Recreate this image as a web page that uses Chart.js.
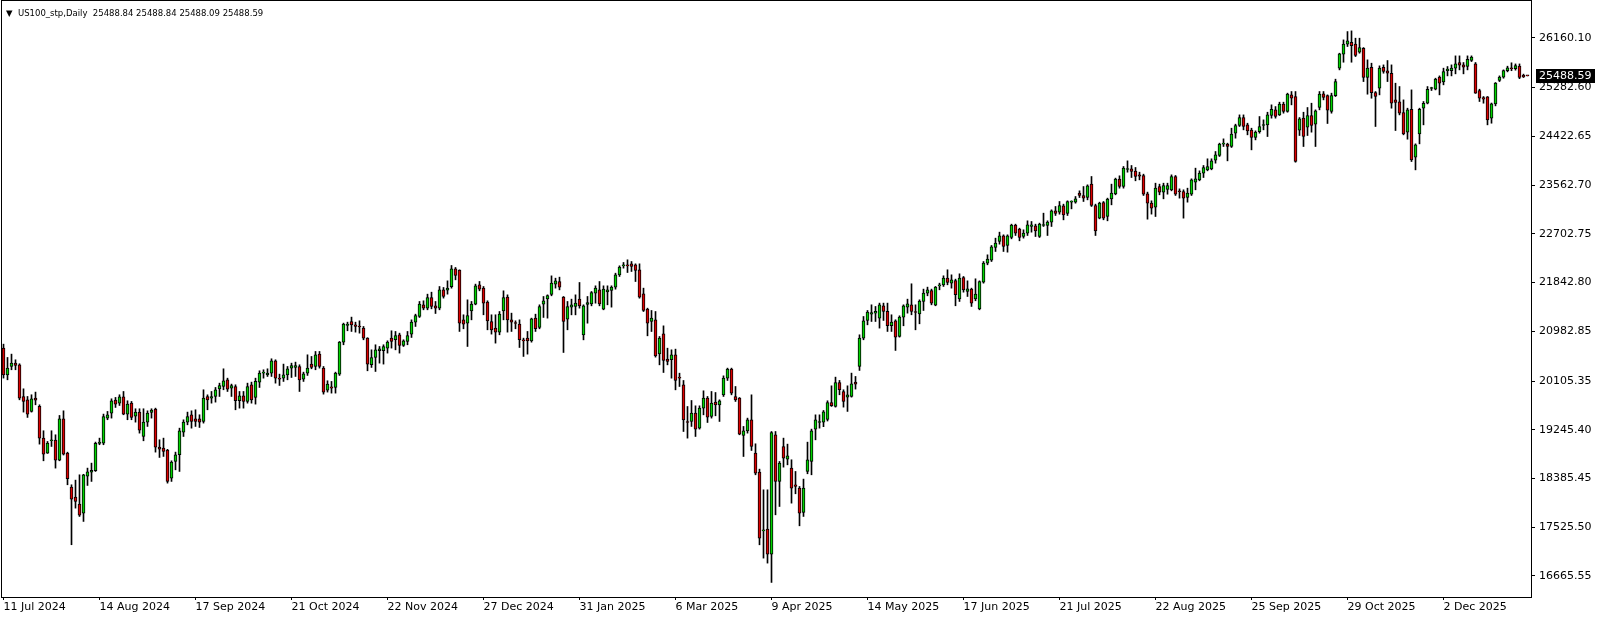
<!DOCTYPE html>
<html>
<head>
<meta charset="utf-8">
<script src="https://cdn.jsdelivr.net/npm/chart.js@4.4.0/dist/chart.umd.min.js"></script>
<style>
  html, body { margin: 0; padding: 0; background: #fff; }
  #wrap { position: relative; width: 1604px; height: 620px; }
  #title { position: absolute; left: 6px; top: 8px; font: 8.5px "DejaVu Sans", sans-serif; color: #000; white-space: pre; line-height: 10px; }
  #title .tri { display: inline-block; width: 12px; }
</style>
</head>
<body>
<div id="wrap">
  <canvas id="chart" width="1604" height="620"></canvas>
  <div id="title"><span class="tri">▼</span>US100_stp,Daily  25488.84 25488.84 25488.09 25488.59</div>
</div>
<script>
// daily bars, 11 Jul 2024 onwards (index = bar number)
const opens = [
  20686, 20215, 20362, 20421, 20392, 19833, 19774, 19569, 19804, 19657, 19098, 18834,
  19051, 19063, 18710, 19439, 18834, 18234, 18057, 17934, 17775, 18428, 18498, 18522,
  19004, 19010, 19451, 19539, 19768, 19716, 19827, 19522, 19716, 19486, 19557, 19127,
  19380, 19551, 19610, 18939, 18922, 18886, 18392, 18686, 18804, 19204, 19380, 19510,
  19439, 19439, 19392, 19833, 19804, 19833, 19968, 20009, 20127, 19980, 20009, 19757,
  19845, 19745, 20039, 19816, 20086, 20245, 20215, 20245, 20462, 20157, 20157, 20215,
  20333, 20345, 20362, 20139, 20245, 20404, 20362, 20580, 20333, 19945, 20004, 19992,
  20227, 20792, 21086, 21156, 21097, 21062, 21039, 20862, 20392, 20521, 20639, 20639,
  20686, 20862, 20833, 20921, 20733, 20803, 20933, 21144, 21244, 21450, 21391, 21579,
  21432, 21391, 21715, 21709, 21768, 22085, 22062, 21185, 21127, 21344, 21462, 21803,
  21744, 21497, 21156, 21038, 20968, 21344, 21585, 21185, 21127, 21109, 20827, 20862,
  20815, 21215, 21050, 21462, 21556, 21632, 21814, 21861, 21585, 21197, 21409, 21420,
  21550, 20921, 21456, 21467, 21656, 21714, 21373, 21679, 21703, 21761, 21979, 22138,
  22155, 22173, 22155, 22067, 21644, 21373, 21156, 21185, 20585, 20938, 20491, 20480,
  20568, 20168, 20039, 19386, 19392, 19539, 19274, 19627, 19803, 19480, 19733, 19686,
  19862, 20156, 20315, 19833, 19803, 19145, 19227, 19421, 18833, 18498, 17463, 17493,
  17052, 19157, 18333, 18951, 18727, 18569, 18275, 18216, 17787, 18510, 18686, 19257,
  19374, 19380, 19430, 19727, 19657, 20080, 19921, 19821, 19833, 20086, 20362, 20862,
  21174, 21286, 21303, 21215, 21433, 21333, 21080, 21168, 20892, 21233, 21409, 21450,
  21321, 21291, 21509, 21656, 21703, 21444, 21785, 21803, 21921, 21832, 21879, 21556,
  21932, 21685, 21726, 21556, 21379, 21850, 22185, 22238, 22461, 22567, 22667, 22497,
  22638, 22855, 22785, 22655, 22714, 22832, 22844, 22655, 22849, 22849, 22908, 23108,
  23085, 23196, 23061, 23261, 23261, 23420, 23379, 23343, 23579, 23202, 22979, 23255,
  23008, 23320, 23408, 23667, 23537, 23837, 23849, 23808, 23743, 23732, 23408, 23243,
  23173, 23537, 23438, 23485, 23479, 23714, 23449, 23449, 23344, 23402, 23614, 23655,
  23773, 23832, 23849, 24002, 24084, 24284, 24284, 24243, 24478, 24613, 24754, 24625,
  24531, 24402, 24507, 24613, 24625, 24790, 24890, 24801, 24990, 24860, 25154, 25125,
  24531, 24743, 24584, 24790, 24637, 24931, 25172, 25142, 24860, 25142, 25625, 25872,
  26048, 26083, 26048, 25907, 25977, 25460, 25642, 25195, 25272, 25642, 25578, 25536,
  25066, 25031, 24843, 24496, 24901, 24055, 24466, 24919, 25007, 25266, 25254, 25466,
  25384, 25583, 25583, 25625, 25725, 25683, 25654, 25760, 25701, 25231, 25107, 25119,
  24743, 24995, 25407, 25466, 25583, 25625, 25615, 25660, 25500, 25488.84
];
const highs = [
  20756, 20521, 20580, 20480, 20410, 19968, 19833, 19863, 19910, 19686, 19228, 19039,
  19228, 19157, 19498, 19580, 18850, 18275, 18357, 18451, 18460, 18569, 18657, 19028,
  19098, 19522, 19569, 19792, 19816, 19863, 19921, 19757, 19745, 19616, 19616, 19616,
  19580, 19616, 19627, 19069, 19098, 18900, 18698, 18851, 19274, 19421, 19557, 19580,
  19598, 19510, 19951, 19862, 19921, 19992, 20068, 20321, 20156, 20051, 20039, 19921,
  19921, 20068, 20086, 20156, 20286, 20304, 20321, 20498, 20480, 20227, 20404, 20362,
  20421, 20439, 20392, 20262, 20568, 20539, 20627, 20627, 20362, 20110, 20098, 20262,
  20803, 21127, 21144, 21233, 21144, 21168, 21068, 20870, 20656, 20745, 20715, 20745,
  20815, 20992, 20980, 20950, 20833, 20980, 21185, 21285, 21509, 21521, 21638, 21673,
  21509, 21773, 21756, 21873, 22144, 22109, 22067, 21274, 21538, 21509, 21815, 21862,
  21773, 21521, 21274, 21274, 21332, 21697, 21626, 21303, 21168, 21185, 20862, 20980,
  21215, 21285, 21450, 21597, 21626, 21961, 21920, 21938, 21597, 21509, 21550, 21626,
  21844, 21450, 21597, 21685, 21785, 21861, 21785, 21785, 21785, 22008, 22138, 22197,
  22244, 22214, 22173, 22173, 21744, 21391, 21350, 21332, 20891, 21079, 20685, 20656,
  20668, 20244, 20115, 19656, 19762, 19668, 19668, 19933, 19833, 19921, 19903, 19774,
  20197, 20333, 20333, 20009, 19815, 19304, 19451, 19862, 18998, 18551, 18186, 18186,
  19215, 19215, 18686, 19098, 18992, 18716, 18510, 18245, 18375, 19027, 19257, 19509,
  19509, 19586, 19757, 20021, 20174, 20116, 19951, 20021, 20245, 20186, 20921, 21244,
  21350, 21450, 21421, 21480, 21480, 21480, 21274, 21186, 21256, 21450, 21550, 21821,
  21450, 21538, 21727, 21762, 21727, 21774, 21832, 21962, 22068, 21979, 21903, 21997,
  21950, 21873, 21744, 21909, 21873, 22214, 22332, 22497, 22626, 22732, 22685, 22685,
  22873, 22873, 22802, 22773, 22932, 22920, 22873, 22891, 23067, 22932, 23126, 23185,
  23273, 23226, 23285, 23285, 23361, 23461, 23537, 23567, 23714, 23226, 23261, 23273,
  23332, 23579, 23685, 23726, 23890, 23990, 23908, 23873, 23790, 23755, 23438, 23285,
  23596, 23579, 23596, 23596, 23743, 23732, 23496, 23479, 23508, 23673, 23861, 23814,
  23908, 24026, 24026, 24155, 24302, 24378, 24302, 24566, 24637, 24801, 24801, 24654,
  24566, 24519, 24772, 24713, 24848, 24978, 24948, 25025, 25025, 25184, 25213, 25213,
  24754, 24848, 24931, 25007, 24890, 25213, 25213, 25154, 25184, 25431, 25889, 26124,
  26271, 26283, 26154, 26154, 25989, 25772, 25713, 25213, 25666, 25683, 25760, 25683,
  25360, 25301, 25066, 24919, 25242, 24290, 24919, 25037, 25301, 25289, 25448, 25489,
  25625, 25654, 25683, 25842, 25842, 25725, 25842, 25842, 25725, 25254, 25125, 25125,
  25010, 25372, 25489, 25595, 25660, 25720, 25700, 25700, 25520, 25488.84
];
const lows = [
  20157, 20127, 20304, 20304, 19774, 19557, 19463, 19557, 19686, 18992, 18698, 18828,
  18951, 18569, 18698, 18800, 18275, 17217, 17863, 17716, 17628, 18263, 18334, 18510,
  18981, 18981, 19422, 19451, 19639, 19674, 19510, 19422, 19422, 19380, 19186, 19051,
  19304, 19451, 18851, 18757, 18775, 18304, 18334, 18539, 18510, 19127, 19333, 19274,
  19304, 19286, 19363, 19598, 19715, 19733, 19833, 19951, 19921, 19833, 19598, 19627,
  19627, 19715, 19715, 19698, 19992, 20156, 20186, 20186, 20068, 20027, 20098, 20127,
  20168, 20186, 19921, 20098, 20204, 20321, 20304, 20333, 19874, 19910, 19892, 19892,
  20204, 20745, 20992, 20980, 20968, 20950, 20833, 20286, 20345, 20274, 20421, 20404,
  20598, 20686, 20656, 20598, 20715, 20745, 20874, 21068, 21227, 21362, 21362, 21379,
  21297, 21362, 21568, 21638, 21744, 21891, 20980, 21027, 20715, 21185, 21450, 21697,
  21274, 21009, 20933, 20774, 20921, 21185, 20968, 20980, 21027, 20697, 20539, 20580,
  20791, 20980, 21027, 21227, 21215, 21609, 21744, 21714, 20609, 21009, 21273, 21273,
  21391, 20832, 21126, 21432, 21479, 21432, 21362, 21450, 21409, 21726, 21950, 22097,
  22020, 22038, 21861, 21567, 21332, 20903, 20979, 20527, 20391, 20256, 20391, 20156,
  19950, 20009, 19215, 19098, 19304, 19127, 19257, 19509, 19374, 19451, 19492, 19392,
  19833, 20115, 19862, 19745, 19157, 18774, 19186, 18880, 18451, 17216, 16981, 16893,
  16552, 17745, 17892, 18586, 18627, 17951, 18116, 17551, 17716, 18469, 18451, 19068,
  19274, 19300, 19400, 19657, 19645, 19863, 19645, 19569, 19821, 19963, 20292, 20833,
  21097, 21156, 21156, 21039, 21174, 20980, 20980, 20645, 20880, 21080, 21303, 21274,
  21009, 21115, 21350, 21609, 21450, 21433, 21715, 21774, 21803, 21744, 21433, 21509,
  21673, 21597, 21421, 21521, 21362, 21832, 22156, 22214, 22391, 22520, 22391, 22379,
  22614, 22673, 22579, 22626, 22673, 22732, 22655, 22638, 22832, 22673, 22832, 23026,
  23049, 22949, 23026, 23143, 23243, 23343, 23273, 23302, 23185, 22673, 22967, 22950,
  22932, 23214, 23391, 23508, 23508, 23790, 23696, 23638, 23655, 23379, 22961, 23050,
  23008, 23391, 23320, 23402, 23461, 23379, 23332, 22979, 23261, 23379, 23479, 23638,
  23696, 23814, 23832, 23949, 24067, 24243, 23990, 24226, 24390, 24596, 24537, 24449,
  24184, 24360, 24478, 24537, 24419, 24743, 24743, 24790, 24831, 24848, 24978, 23966,
  24437, 24243, 24437, 24496, 24243, 24890, 25066, 24649, 24831, 25125, 25595, 25730,
  26007, 25730, 25830, 25889, 25389, 25166, 25095, 24596, 25154, 25536, 25389, 24919,
  24525, 24801, 24449, 24372, 23978, 23831, 24290, 24625, 24995, 25231, 25242, 25154,
  25331, 25489, 25489, 25525, 25595, 25525, 25595, 25742, 25180, 25037, 25007, 24625,
  24654, 24960, 25389, 25448, 25560, 25580, 25590, 25440, 25460, 25488.09
];
const closes = [
  20215, 20333, 20421, 20380, 19804, 19745, 19522, 19792, 19768, 19098, 18816, 19010,
  19063, 18710, 19439, 18816, 18381, 18022, 17981, 17740, 18451, 18504, 18528, 19004,
  19028, 19480, 19510, 19757, 19698, 19827, 19522, 19698, 19463, 19557, 19239, 19380,
  19539, 19592, 18939, 18904, 18863, 18334, 18675, 18804, 19227, 19380, 19480, 19392,
  19392, 19380, 19804, 19774, 19833, 19951, 20027, 20110, 19962, 20027, 19757, 19845,
  19745, 20009, 19774, 20098, 20245, 20250, 20245, 20462, 20157, 20139, 20215, 20321,
  20380, 20380, 20127, 20233, 20333, 20345, 20568, 20362, 19910, 20051, 19980, 20245,
  20792, 21109, 21109, 21097, 21068, 21058, 20862, 20404, 20521, 20656, 20674, 20715,
  20792, 20803, 20909, 20733, 20815, 20909, 21144, 21262, 21462, 21391, 21579, 21421,
  21391, 21715, 21597, 21744, 22085, 21967, 21127, 21109, 21262, 21462, 21785, 21726,
  21479, 21168, 21009, 20968, 21285, 21579, 21185, 21144, 21120, 20833, 20815, 20815,
  21203, 21027, 21421, 21521, 21615, 21832, 21873, 21761, 21156, 21420, 21450, 21479,
  21432, 21432, 21491, 21667, 21744, 21467, 21726, 21714, 21761, 21979, 22114, 22155,
  22138, 22126, 22055, 21585, 21350, 21126, 21215, 20550, 20862, 20468, 20450, 20568,
  20115, 20156, 19421, 19374, 19539, 19257, 19627, 19803, 19468, 19715, 19686, 19756,
  20156, 20315, 19892, 19774, 19168, 19227, 19421, 18951, 18480, 17334, 17470, 17052,
  19198, 18333, 18657, 18745, 18786, 18216, 18245, 17775, 18216, 18716, 19227, 19421,
  19380, 19560, 19727, 19669, 20080, 19951, 19745, 19863, 20057, 20051, 20862, 21168,
  21321, 21315, 21333, 21450, 21333, 21080, 21144, 20880, 21233, 21433, 21468, 21333,
  21315, 21515, 21656, 21715, 21480, 21762, 21803, 21921, 21844, 21891, 21627, 21920,
  21715, 21732, 21479, 21638, 21862, 22185, 22256, 22473, 22538, 22667, 22479, 22667,
  22855, 22714, 22638, 22714, 22861, 22861, 22755, 22873, 22852, 22908, 23108, 23061,
  23202, 23038, 23273, 23265, 23320, 23379, 23332, 23549, 23202, 22755, 23243, 22979,
  23314, 23420, 23667, 23537, 23861, 23840, 23802, 23714, 23720, 23402, 23243, 23155,
  23508, 23438, 23555, 23555, 23714, 23402, 23445, 23332, 23420, 23655, 23673, 23773,
  23873, 23890, 23990, 24096, 24284, 24288, 24243, 24461, 24613, 24754, 24596, 24519,
  24402, 24496, 24596, 24616, 24801, 24901, 24772, 24990, 24860, 25166, 25095, 23978,
  24731, 24419, 24790, 24613, 24872, 25166, 25107, 24884, 25142, 25389, 25877, 26048,
  26107, 26024, 25848, 25989, 25460, 25625, 25195, 25125, 25625, 25566, 25536, 25007,
  25019, 24831, 24466, 24890, 24008, 24272, 24901, 25007, 25254, 25270, 25431, 25360,
  25566, 25607, 25625, 25701, 25678, 25642, 25783, 25819, 25184, 25095, 25078, 24713,
  24995, 25360, 25466, 25583, 25630, 25615, 25670, 25460, 25470, 25488.59
];

const dateTicks = [0, 24, 48, 72, 96, 120, 144, 168, 192, 216, 240, 264, 288, 312, 336, 360];
const dateLabels = ['11 Jul 2024', '14 Aug 2024', '17 Sep 2024', '21 Oct 2024', '22 Nov 2024',
  '27 Dec 2024', '31 Jan 2025', '6 Mar 2025', '9 Apr 2025', '14 May 2025', '17 Jun 2025',
  '21 Jul 2025', '22 Aug 2025', '25 Sep 2025', '29 Oct 2025', '2 Dec 2025'];
const priceTicks = [26160.10, 25282.60, 24422.65, 23562.70, 22702.75, 21842.80,
  20982.85, 20105.35, 19245.40, 18385.45, 17525.50, 16665.55];
const lastPrice = 25488.59;

const upColor = '#00d400';
const downColor = '#dc0000';
const axisFont = { family: 'DejaVu Sans', size: 11 };

const wickData = highs.map((h, i) => ({ x: i, y: [lows[i], h] }));
const bodyData = opens.map((o, i) => ({ x: i, y: [o, closes[i]] }));
const bodyColors = opens.map((o, i) => (closes[i] >= o ? upColor : downColor));

// frame round the plot and the black current-price box on the price scale
const mtFrame = {
  id: 'mtFrame',
  afterDraw(chart) {
    const { ctx, chartArea: a } = chart;
    ctx.save();
    ctx.strokeStyle = '#000';
    ctx.lineWidth = 1;
    ctx.strokeRect(a.left - 0.5, a.top - 0.5, a.right - a.left + 1, a.bottom - a.top + 1);
    const y = Math.round(chart.scales.y.getPixelForValue(lastPrice));
    ctx.fillStyle = '#000';
    ctx.fillRect(a.right + 5, y - 7, 59, 14);
    ctx.fillStyle = '#fff';
    ctx.font = '11px "DejaVu Sans"';
    ctx.textBaseline = 'middle';
    ctx.fillText(lastPrice.toFixed(2), a.right + 8, y);
    ctx.restore();
  }
};

new Chart(document.getElementById('chart'), {
  type: 'bar',
  data: {
    datasets: [
      {
        // wicks sit under the bodies
        order: 2,
        data: wickData,
        backgroundColor: '#000',
        borderWidth: 0,
        barThickness: 1,
        grouped: false,
      },
      {
        order: 1,
        data: bodyData,
        backgroundColor: bodyColors,
        borderColor: '#000',
        borderWidth: 1,
        borderSkipped: false,
        barThickness: 3,
        minBarLength: 1,
        grouped: false,
      },
    ],
  },
  options: {
    responsive: false,
    animation: false,
    devicePixelRatio: 1,
    events: [],
    layout: { padding: { left: 2, top: 1, right: 0, bottom: 0 } },
    plugins: { legend: { display: false }, tooltip: { enabled: false } },
    scales: {
      x: {
        type: 'linear',
        min: -0.375,
        max: 381.875,
        offset: false,
        grid: { drawOnChartArea: false, tickLength: 3, tickColor: '#000', offset: false },
        border: { display: false },
        afterBuildTicks: (s) => { s.ticks = dateTicks.map((v) => ({ value: v })); },
        afterFit: (s) => { s.height = 23; s.paddingLeft = 0; s.paddingRight = 0; },
        ticks: {
          autoSkip: false,
          maxRotation: 0,
          align: 'start',
          padding: 1,
          color: '#000',
          font: axisFont,
          callback: (v) => dateLabels[dateTicks.indexOf(v)],
        },
      },
      y: {
        position: 'right',
        min: 16295,
        max: 26810.2,
        grid: { drawOnChartArea: false, tickLength: 4, tickColor: '#000' },
        border: { display: false },
        afterBuildTicks: (s) => { s.ticks = priceTicks.map((v) => ({ value: v })); },
        afterFit: (s) => { s.width = 73; s.paddingTop = 0; s.paddingBottom = 0; },
        ticks: {
          padding: 4,
          color: '#000',
          font: axisFont,
          callback: (v) => v.toFixed(2),
        },
      },
    },
  },
  plugins: [mtFrame],
});
</script>
</body>
</html>
